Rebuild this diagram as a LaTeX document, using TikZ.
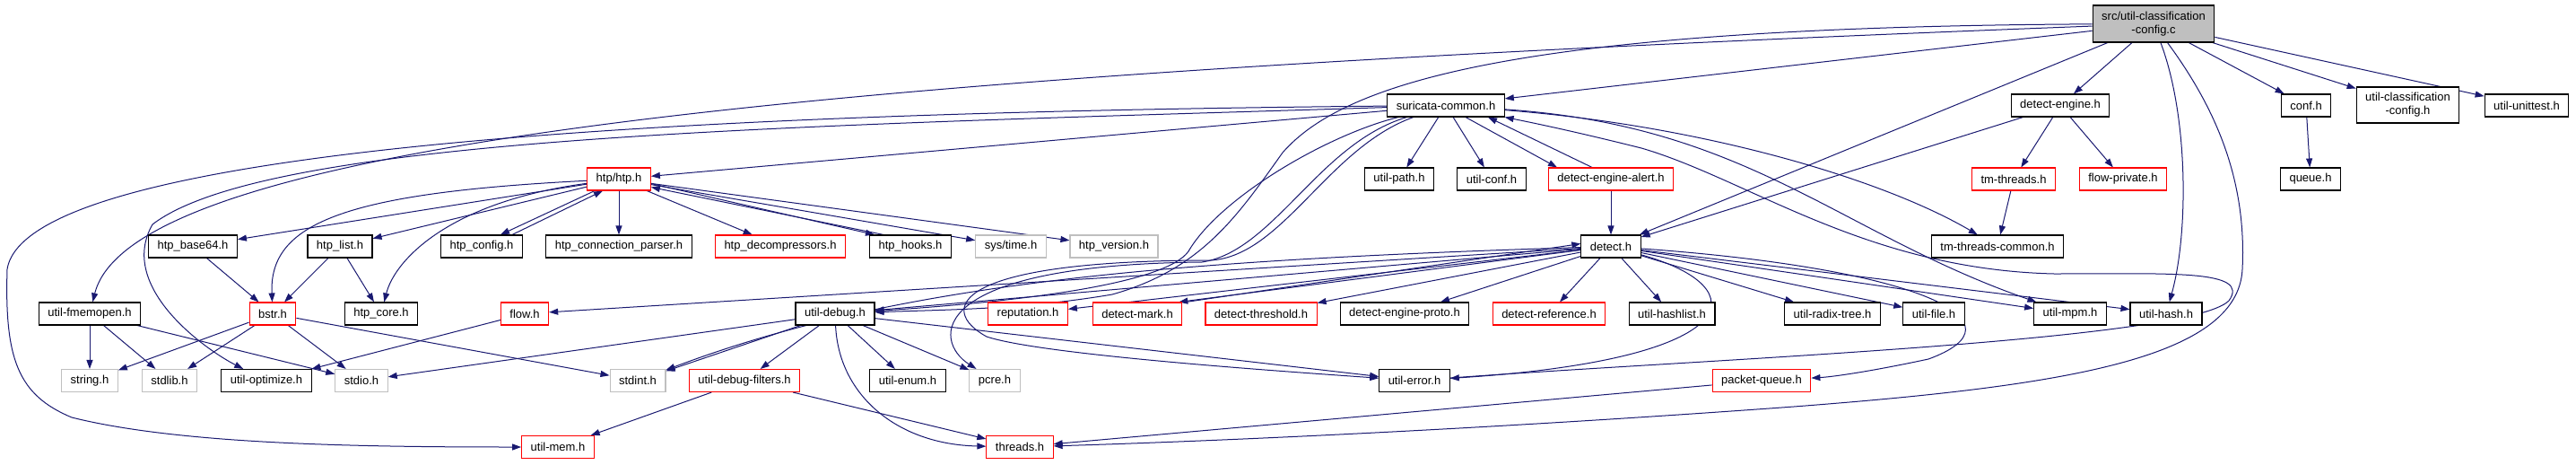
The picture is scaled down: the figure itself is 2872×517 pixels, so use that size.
\documentclass[tikz,border=0pt]{standalone}
\usepackage{fontspec}
\setmainfont{Liberation Sans}
\usetikzlibrary{arrows.meta}

\definecolor{depblue}{HTML}{191970}
\definecolor{truncred}{HTML}{FF0000}
\definecolor{sysgray}{HTML}{BFBFBF}

\pgfdeclarelayer{edges}
\pgfsetlayers{edges,main}

\tikzset{
  file/.style={draw=black, line width=1.1pt, fill=white, inner xsep=10pt, inner ysep=0pt,
    minimum height=25pt, font=\fontsize{13}{15}\selectfont},
  truncfile/.style={file, draw=truncred},
  sysfile/.style={file, draw=sysgray},
  mainfile/.style={file, fill=sysgray, minimum height=41pt, align=center},
  dep/.style={draw=depblue, line width=1pt, -{Triangle[length=10pt,width=7pt]}}
}

\begin{document}
\begin{tikzpicture}[x=1pt, y=1pt]
    \useasboundingbox (0,0) rectangle (2872,-517);

    % the file and what it includes
    \node[mainfile] (src) at (2401,-26.5) {src/util-classification\\-config.c};
    \node[file] (sc) at (1612,-117.5) {suricata-common.h};
    \node[file] (deteng) at (2297,-117.5) {detect-engine.h};
    \node[file] (conf) at (2571,-117.5) {conf.h};
    \node[file, minimum height=40pt, align=center] (uccfg) at (2684.5,-117) {util-classification\\-config.h};
    \node[file] (unittest) at (2817,-117.5) {util-unittest.h};

    % second row
    \node[truncfile] (htp) at (690,-199.5) {htp/htp.h};
    \node[file] (upath) at (1560,-199.5) {util-path.h};
    \node[file] (uconf) at (1663,-199.5) {util-conf.h};
    \node[truncfile] (dealert) at (1796,-199.5) {detect-engine-alert.h};
    \node[truncfile] (tmthr) at (2245,-199.5) {tm-threads.h};
    \node[truncfile] (flowpriv) at (2367,-199.5) {flow-private.h};
    \node[file] (queue) at (2576,-199.5) {queue.h};

    % third row
    \node[file] (b64) at (215,-274.5) {htp\_base64.h};
    \node[file] (hlist) at (379,-274.5) {htp\_list.h};
    \node[file] (hconfig) at (537,-274.5) {htp\_config.h};
    \node[file] (hconnp) at (690,-274.5) {htp\_connection\_parser.h};
    \node[truncfile] (hdecomp) at (870,-274.5) {htp\_decompressors.h};
    \node[file] (hhooks) at (1015,-274.5) {htp\_hooks.h};
    \node[sysfile] (systime) at (1127,-274.5) {sys/time.h};
    \node[sysfile] (hversion) at (1242,-274.5) {htp\_version.h};
    \node[file] (detect) at (1796,-274.5) {detect.h};
    \node[file] (tmtc) at (2227,-274.5) {tm-threads-common.h};

    % fourth row
    \node[file] (fmemopen) at (100,-349.5) {util-fmemopen.h};
    \node[truncfile] (bstr) at (304,-349.5) {bstr.h};
    \node[file] (hcore) at (425,-349.5) {htp\_core.h};
    \node[truncfile] (flow) at (585,-349.5) {flow.h};
    \node[file] (udebug) at (931,-349.5) {util-debug.h};
    \node[truncfile] (reput) at (1146,-349.5) {reputation.h};
    \node[truncfile] (dmark) at (1268,-349.5) {detect-mark.h};
    \node[truncfile] (dthresh) at (1406,-349.5) {detect-threshold.h};
    \node[file] (dproto) at (1566,-349.5) {detect-engine-proto.h};
    \node[truncfile] (dref) at (1727,-349.5) {detect-reference.h};
    \node[file] (uhashlist) at (1864,-349.5) {util-hashlist.h};
    \node[file] (uradix) at (2043,-349.5) {util-radix-tree.h};
    \node[file] (ufile) at (2156,-349.5) {util-file.h};
    \node[file] (umpm) at (2308,-349.5) {util-mpm.h};
    \node[file] (uhash) at (2415,-349.5) {util-hash.h};

    % fifth row
    \node[sysfile] (stringh) at (100,-424) {string.h};
    \node[sysfile] (stdlibh) at (189,-424) {stdlib.h};
    \node[file] (uopt) at (297,-424) {util-optimize.h};
    \node[sysfile] (stdioh) at (403,-424) {stdio.h};
    \node[sysfile] (stdinth) at (711,-424) {stdint.h};
    \node[truncfile] (udfilt) at (830,-424) {util-debug-filters.h};
    \node[file] (uenum) at (1012,-424) {util-enum.h};
    \node[sysfile] (pcre) at (1109,-424) {pcre.h};
    \node[file] (uerror) at (1577,-424) {util-error.h};
    \node[truncfile] (pqueue) at (1964,-424) {packet-queue.h};

    % last row
    \node[truncfile] (umem) at (622,-498) {util-mem.h};
    \node[truncfile] (threads) at (1137,-498) {threads.h};

    \begin{pgfonlayer}{edges}
    % includes of the source file
    \draw[dep] (src) -- (sc);
    \draw[dep] (src) -- (detect);
    \draw[dep] (src) -- (deteng);
    \draw[dep] (src) .. controls (2440,-130) and (2440,-260) .. (uhash);
    \draw[dep] (src) -- (conf);
    \draw[dep] (src) -- (uccfg);
    \draw[dep] (src) -- (unittest);
    \draw[dep] (src) .. controls (1000,-80) and (150,-150) .. (fmemopen);
    \draw[dep] (src) .. controls (1700,-30) and (1500,-90) .. (1430,-170) .. controls (1380,-240) and (1340,-300) .. (1240,-328) .. controls (1140,-345) and (1050,-345) .. (udebug);
    \draw[dep] (src) .. controls (2470,-120) and (2505,-200) .. (2500,-300) .. controls (2495,-400) and (2300,-430) .. (2000,-453) .. controls (1700,-475) and (1400,-490) .. (threads);

    % suricata-common.h
    \draw[dep] (sc) -- (htp);
    \draw[dep] (sc) .. controls (900,-140) and (300,-150) .. (170,-250) .. controls (130,-320) and (230,-390) .. (uopt);
    \draw[dep] (sc) .. controls (800,-125) and (30,-160) .. (8,-300) .. controls (5,-400) and (20,-440) .. (80,-465) .. controls (200,-495) and (400,-498) .. (umem);
    \draw[dep] (sc) -- (upath);
    \draw[dep] (sc) -- (uconf);
    \draw[dep] ([xshift=22pt]sc.south) -- ([xshift=-60pt]dealert.north);
    \draw[dep] ([xshift=-21pt]dealert.north) -- ([xshift=47pt]sc.south);
    \draw[dep] (sc) .. controls (1900,-140) and (2100,-200) .. (tmtc);
    \draw[dep] (sc) .. controls (1950,-140) and (2050,-260) .. (umpm);
    \draw[dep] (sc) .. controls (1480,-150) and (1360,-220) .. (1325,-280) .. controls (1300,-315) and (1150,-335) .. (udebug);
    \draw[dep] (sc) .. controls (1470,-160) and (1420,-280) .. (1340,-292) .. controls (1030,-295) and (1040,-380) .. (pcre);
    \draw[dep] (sc) .. controls (1480,-165) and (1430,-285) .. (1350,-290) .. controls (1060,-290) and (1045,-345) .. (1100,-375) .. controls (1160,-395) and (1420,-413) .. (uerror);
    \draw[dep] (uerror) .. controls (1900,-400) and (2440,-380) .. (2485,-335) .. controls (2510,-300) and (2420,-305) .. (2290,-305) .. controls (2080,-300) and (1950,-200) .. (1830,-165) .. controls (1750,-145) and (1700,-135) .. (sc);

    % detect side
    \draw[dep] (dealert) -- (detect);
    \draw[dep] (deteng) -- (detect);
    \draw[dep] (deteng) -- (tmthr);
    \draw[dep] (deteng) -- (flowpriv);
    \draw[dep] (tmthr) -- (tmtc);
    \draw[dep] (conf) -- (queue);

    % htp/htp.h
    \draw[dep] (htp) -- (b64);
    \draw[dep] (htp) .. controls (380,-215) and (300,-250) .. (bstr);
    \draw[dep] (htp) -- (hlist);
    \draw[dep] (htp) .. controls (500,-225) and (440,-290) .. (hcore);
    \draw[dep] ([xshift=-27pt]htp.south) -- ([xshift=21pt]hconfig.north);
    \draw[dep] ([xshift=34pt]hconfig.north) -- ([xshift=-18pt]htp.south);
    \draw[dep] (htp) -- (hconnp);
    \draw[dep] (htp) -- (hdecomp);
    \draw[dep] ([yshift=-5pt]htp.east) -- ([xshift=-40pt]hhooks.north);
    \draw[dep] ([xshift=-30pt]hhooks.north) -- ([yshift=-9pt]htp.east);
    \draw[dep] (htp) -- (systime);
    \draw[dep] (htp) -- (hversion);
    \draw[dep] (b64) -- (bstr);
    \draw[dep] (hlist) -- (bstr);
    \draw[dep] (hlist) -- (hcore);

    % bstr.h, util-fmemopen.h, flow.h
    \draw[dep] (bstr) -- (stringh);
    \draw[dep] (bstr) -- (stdlibh);
    \draw[dep] (bstr) -- (stdioh);
    \draw[dep] (bstr) -- (stdinth);
    \draw[dep] (fmemopen) -- (stringh);
    \draw[dep] (fmemopen) -- (stdlibh);
    \draw[dep] (fmemopen) -- (stdioh);
    \draw[dep] (flow) -- (uopt);

    % detect.h
    \draw[dep] (detect) -- (flow);
    \draw[dep] (detect) -- (udebug);
    \draw[dep] (detect) .. controls (1300,-290) and (1000,-315) .. (stdinth);
    \draw[dep] (detect) -- (reput);
    \draw[dep] ([yshift=-4pt]detect.west) -- ([xshift=-4pt]dmark.north east);
    \draw[dep] ([xshift=4pt]dmark.north east) -- ([yshift=3pt]detect.west);
    \draw[dep] (detect) -- (dthresh);
    \draw[dep] (detect) -- (dproto);
    \draw[dep] (detect) -- (dref);
    \draw[dep] (detect) -- (uhashlist);
    \draw[dep] (detect) .. controls (1960,-320) and (1950,-400) .. (uerror);
    \draw[dep] (detect) -- (uradix);
    \draw[dep] (detect) -- (ufile);
    \draw[dep] (detect) -- (umpm);
    \draw[dep] (detect) -- (uhash);
    \draw[dep] (detect) .. controls (2150,-300) and (2260,-360) .. (2150,-400) .. controls (2080,-415) and (2040,-420) .. (pqueue);

    % util-debug.h
    \draw[dep] (udebug) -- (stdioh);
    \draw[dep] (udebug) -- (stdinth);
    \draw[dep] (udebug) -- (udfilt);
    \draw[dep] (udebug) -- (uenum);
    \draw[dep] (udebug) -- (pcre);
    \draw[dep] (udebug) -- (uerror);
    \draw[dep] (udebug) .. controls (935,-440) and (1000,-495) .. (threads);
    \draw[dep] (udfilt) -- (umem);
    \draw[dep] (udfilt) -- (threads);
    \draw[dep] (pqueue) -- (threads);
    \end{pgfonlayer}

\end{tikzpicture}
\end{document}
